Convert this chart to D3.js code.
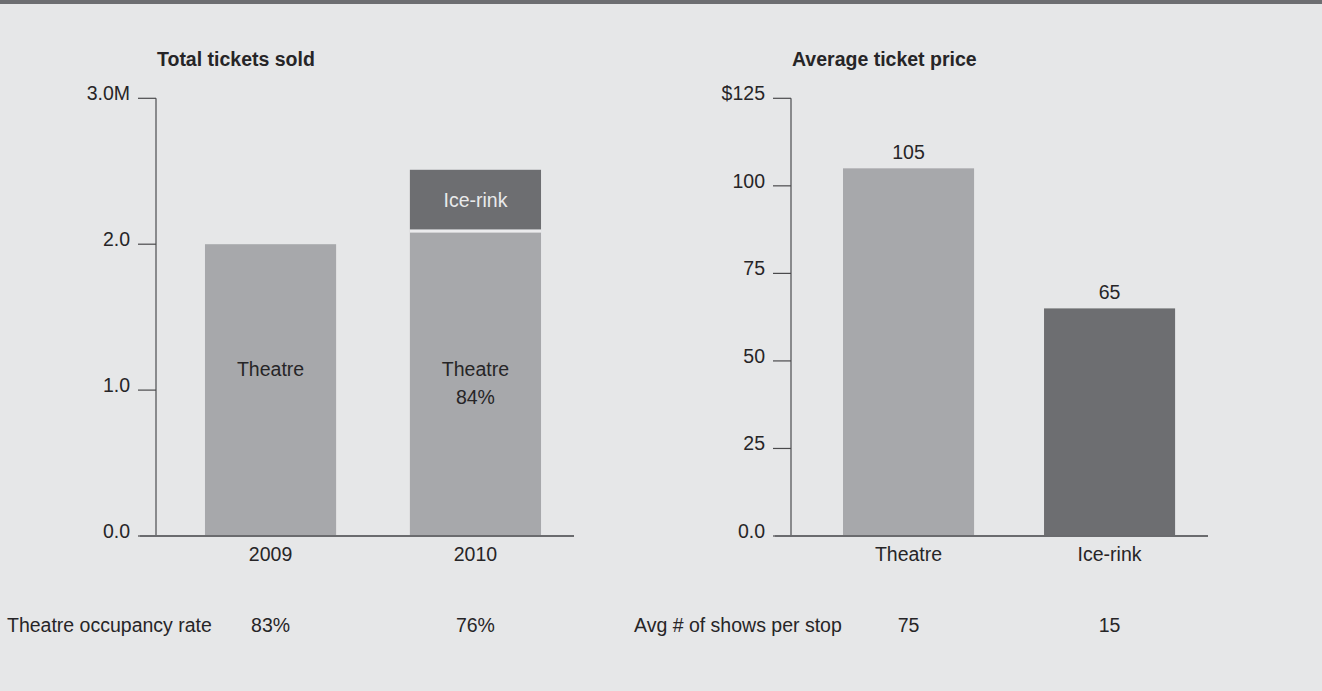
<!DOCTYPE html>
<html>
<head>
<meta charset="utf-8">
<script src="https://cdn.jsdelivr.net/npm/d3@7"></script>
<style>
  html, body { margin: 0; padding: 0; background: #e6e7e8; }
  svg { display: block; }
  text { font-family: "Liberation Sans", Arial, Helvetica, sans-serif; fill: #262527; }
</style>
</head>
<body>
<svg id="chart" width="1322" height="691"></svg>
<script>
// ---- data ----
const years = ["2009", "2010"];
const theatreTickets = [2.0, 2.1];      // millions
const iceRinkTickets = [0, 0.41];       // millions
const theatreShareLabels = ["", "84%"];
const ticketTicks = [0, 1, 2, 3];
const ticketTickLabels = ["0.0", "1.0", "2.0", "3.0M"];
const occupancyRates = ["83%", "76%"];

const venues = ["Theatre", "Ice-rink"];
const avgPrice = [105, 65];             // dollars
const priceTicks = [0, 25, 50, 75, 100, 125];
const priceTickLabels = ["0.0", "25", "50", "75", "100", "$125"];
const showsPerStop = [75, 15];

// ---- styling ----
const BG = "#e6e7e8";
const LIGHT = "#a7a8ab";
const DARK = "#6d6e71";
const AXIS = "#6a6b6e";
const TICK = "#4a4a4c";
const FS = "19.5px";

const svg = d3.select("#chart");
svg.append("rect").attr("width", 1322).attr("height", 691).attr("fill", BG);
svg.append("rect").attr("width", 1322).attr("height", 4).attr("fill", DARK);

// Shared axis frame: vertical rule, ticks with labels, baseline
function drawFrame(g, axisX, y, ticks, labels, baseStart, baseEnd, title) {
  g.append("text")
    .attr("x", axisX + 1).attr("y", 66)
    .style("font-size", FS).style("font-weight", "bold")
    .text(title);

  g.append("line")
    .attr("x1", axisX).attr("x2", axisX)
    .attr("y1", y(ticks[ticks.length - 1])).attr("y2", y(0))
    .attr("stroke", AXIS).attr("stroke-width", 1.5);

  const t = g.selectAll(".tick").data(ticks).enter().append("g");
  t.append("line")
    .attr("x1", axisX - 18).attr("x2", axisX)
    .attr("y1", d => y(d)).attr("y2", d => y(d))
    .attr("stroke", TICK).attr("stroke-width", 1.2);
  t.append("text")
    .attr("x", axisX - 26).attr("y", d => y(d) + 2)
    .attr("text-anchor", "end")
    .style("font-size", FS)
    .text((d, i) => labels[i]);

  return () => g.append("line")
    .attr("x1", baseStart).attr("x2", baseEnd)
    .attr("y1", y(0)).attr("y2", y(0))
    .attr("stroke", AXIS).attr("stroke-width", 2);
}

// ---- left panel: total tickets sold ----
const yL = d3.scaleLinear().domain([0, 3]).range([536, 98.3]);
const xL = d3.scaleBand().domain(years).range([164, 582]).paddingInner(0.36).paddingOuter(0.2);
const gL = svg.append("g");
const baseL = drawFrame(gL, 156, yL, ticketTicks, ticketTickLabels, 140, 574, "Total tickets sold");

years.forEach((yr, i) => {
  const x0 = xL(yr), w = xL.bandwidth();
  const th = theatreTickets[i], ice = iceRinkTickets[i];
  gL.append("rect")
    .attr("x", x0).attr("width", w)
    .attr("y", yL(th)).attr("height", yL(0) - yL(th))
    .attr("fill", LIGHT);
  if (ice > 0) {
    gL.append("rect")
      .attr("x", x0).attr("width", w)
      .attr("y", yL(th + ice)).attr("height", yL(th) - yL(th + ice))
      .attr("fill", DARK);
    // separator between stacked segments
    gL.append("rect")
      .attr("x", x0).attr("width", w)
      .attr("y", yL(th)).attr("height", 3)
      .attr("fill", "#ebebed");
    gL.append("text")
      .attr("x", x0 + w / 2).attr("y", (yL(th) + yL(th + ice)) / 2 + 7)
      .attr("text-anchor", "middle")
      .style("font-size", FS).style("fill", "#e9eaeb")
      .text("Ice-rink");
  }
  gL.append("text")
    .attr("x", x0 + w / 2).attr("y", 376)
    .attr("text-anchor", "middle").style("font-size", FS)
    .text("Theatre");
  if (theatreShareLabels[i]) {
    gL.append("text")
      .attr("x", x0 + w / 2).attr("y", 403.5)
      .attr("text-anchor", "middle").style("font-size", FS)
      .text(theatreShareLabels[i]);
  }
  gL.append("text")
    .attr("x", x0 + w / 2).attr("y", 561)
    .attr("text-anchor", "middle").style("font-size", FS)
    .text(yr);
  gL.append("text")
    .attr("x", x0 + w / 2).attr("y", 632)
    .attr("text-anchor", "middle").style("font-size", FS)
    .text(occupancyRates[i]);
});
baseL();
gL.append("text").attr("x", 7).attr("y", 632).style("font-size", FS).text("Theatre occupancy rate");

// ---- right panel: average ticket price ----
const yR = d3.scaleLinear().domain([0, 125]).range([536, 98.3]);
const xR = d3.scaleBand().domain(venues).range([802.8, 1215.3]).paddingInner(0.348).paddingOuter(0.2);
const gR = svg.append("g");
const baseR = drawFrame(gR, 791, yR, priceTicks, priceTickLabels, 775, 1208, "Average ticket price");

venues.forEach((v, i) => {
  const x0 = xR(v), w = xR.bandwidth();
  gR.append("rect")
    .attr("x", x0).attr("width", w)
    .attr("y", yR(avgPrice[i])).attr("height", yR(0) - yR(avgPrice[i]))
    .attr("fill", i === 0 ? LIGHT : DARK);
  gR.append("text")
    .attr("x", x0 + w / 2).attr("y", yR(avgPrice[i]) - 9.5)
    .attr("text-anchor", "middle").style("font-size", FS)
    .text(avgPrice[i]);
  gR.append("text")
    .attr("x", x0 + w / 2).attr("y", 561)
    .attr("text-anchor", "middle").style("font-size", FS)
    .text(v);
  gR.append("text")
    .attr("x", x0 + w / 2).attr("y", 632)
    .attr("text-anchor", "middle").style("font-size", FS)
    .text(showsPerStop[i]);
});
baseR();
gR.append("text").attr("x", 634).attr("y", 632).style("font-size", FS).text("Avg # of shows per stop");
</script>
</body>
</html>
